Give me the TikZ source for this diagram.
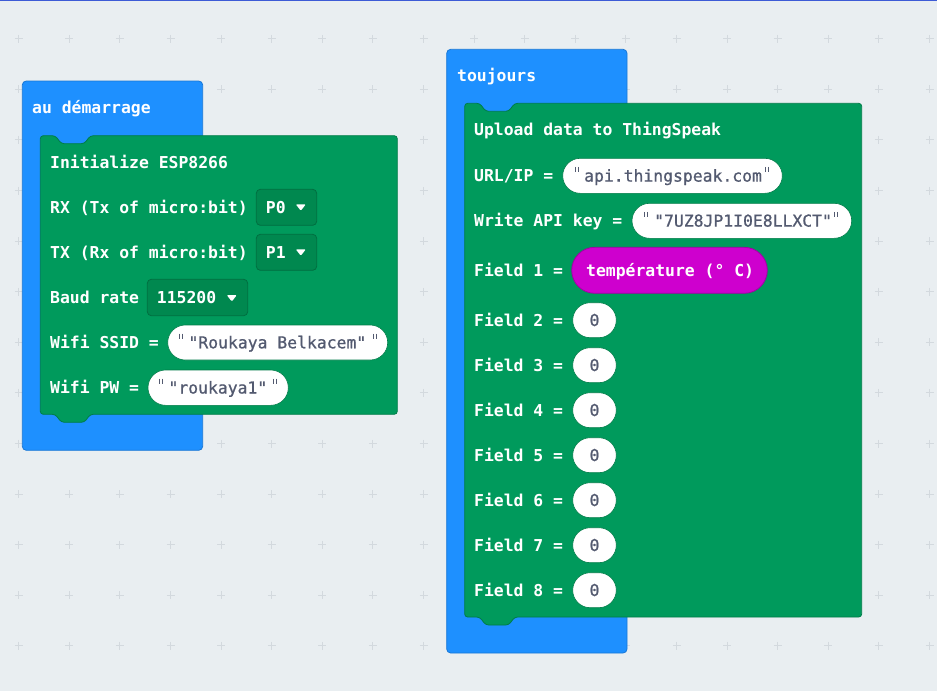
\documentclass[tikz,border=0pt]{standalone}
\usepackage{fontspec}
\newfontfamily\blkfont{DejaVu Sans Mono}
\newfontfamily\valfont[FakeBold=0.9]{DejaVu Sans Mono}
\definecolor{bgc}{HTML}{E9EEF1}
\definecolor{gridc}{HTML}{D3D9DE}
\definecolor{topline}{HTML}{3D5BD6}
\definecolor{bluec}{HTML}{1E90FF}
\definecolor{blueb}{HTML}{1877D6}
\definecolor{greenc}{HTML}{009A5C}
\definecolor{greenb}{HTML}{007C48}
\definecolor{ddfill}{HTML}{00884F}
\definecolor{ddb}{HTML}{006E40}
\definecolor{magc}{HTML}{CE00CE}
\definecolor{magb}{HTML}{A300A3}
\definecolor{valc}{HTML}{535A70}
\newcommand\gblockpath[4]{%
  \draw[gblock] (#1,#2) -- (#1+15,#2) -- (#1+21,#2+8) -- (#1+44,#2+8) -- (#1+50,#2)
    -- (#3,#2) -- (#3,#4) -- (#1+50,#4) -- (#1+44,#4+8) -- (#1+21,#4+8) -- (#1+15,#4)
    -- (#1,#4) -- cycle;}
\newcommand\quotemark[2]{%
  \draw[qmark] (#1,#2-9) -- (#1,#2-4) (#1+3,#2-9) -- (#1+3,#2-4);}
\newcommand\ddarrow[2]{%
  \fill[white, rounded corners=1] (#1-5,#2-3.2) -- (#1+5,#2-3.2) -- (#1,#2+3.2) -- cycle;}
\begin{document}
\begin{tikzpicture}[x=1pt,y=-1pt,
  lbl/.style={anchor=base west, inner sep=0, text=white, font=\blkfont\bfseries\fontsize{16.4}{18}\selectfont},
  val/.style={anchor=base west, inner sep=0, text=valc, font=\valfont\fontsize{16.4}{18}\selectfont},
  bblock/.style={fill=bluec, draw=blueb, line width=0.8, rounded corners=4},
  gblock/.style={fill=greenc, draw=greenb, line width=0.8, rounded corners=3},
  ddbox/.style={fill=ddfill, draw=ddb, line width=0.8, rounded corners=4},
  pill/.style={fill=white, draw=greenb, line width=0.6},
  magpill/.style={fill=magc, draw=magb, line width=0.8, rounded corners=23},
  qmark/.style={draw=valc, line width=1},
  gridplus/.style={draw=gridc, line width=0.9}]
\useasboundingbox (0,0) rectangle (937,691);
\fill[bgc] (0,0) rectangle (937,691);
% grid
\foreach \i in {0,...,18}{
  \foreach \j in {0,...,12}{
    \pgfmathsetmacro\gx{18.7+50.6*\i}
    \pgfmathsetmacro\gy{38.7+50.6*\j}
    \draw[gridplus] (\gx-4,\gy) -- (\gx+4,\gy) (\gx,\gy-4) -- (\gx,\gy+4);
  }
}
\fill[topline] (0,0) rectangle (937,1.4);

% ===== left: au demarrage =====
\draw[bblock] (22.3,81) rectangle (202.7,450.3);
\gblockpath{40.3}{135.7}{397.3}{414.3}
\node[lbl] (hstart) at (32,113.3) {au démarrage};
\node[lbl] (init) at (50,168.3) {Initialize ESP8266};
\node[lbl] (rx) at (50,213.1) {RX (Tx of micro:bit)};
\draw[ddbox] (256.3,189.3) rectangle (316.7,225.3);
\node[lbl] (rxv) at (265.7,213.1) {P0};
\ddarrow{300.8}{207.5}
\node[lbl] (tx) at (50,258.1) {TX (Rx of micro:bit)};
\draw[ddbox] (256.3,234.3) rectangle (316.7,270.3);
\node[lbl] (txv) at (265.7,258.1) {P1};
\ddarrow{300.8}{252.5}
\node[lbl] (baud) at (50,303.3) {Baud rate};
\draw[ddbox] (147.3,279.3) rectangle (247.7,315.7);
\node[lbl] (baudv) at (156.7,303.3) {115200};
\ddarrow{231.8}{298.3}
\node[lbl] (ssid) at (50,348.3) {Wifi SSID =};
\draw[pill, rounded corners=17.5] (167.7,325) rectangle (387.7,360);
\quotemark{179.5}{342.5}
\node[val] (ssidv) at (188.3,348.3) {"Roukaya Belkacem"};
\quotemark{373.5}{342.5}
\node[lbl] (pw) at (50,393.5) {Wifi PW =};
\draw[pill, rounded corners=17.5] (148,370) rectangle (288.3,405.3);
\quotemark{159.5}{387.7}
\node[val] (pwv) at (168.3,393.5) {"roukaya1"};
\quotemark{273.5}{387.7}

% ===== right: toujours =====
\draw[bblock] (446.7,49.3) rectangle (627,653);
\gblockpath{464.7}{103.3}{861.7}{617}
\node[lbl] (hloop) at (457,81.7) {toujours};
\node[lbl] (upl) at (474,135.7) {Upload data to ThingSpeak};
\node[lbl] (url) at (474,181.6) {URL/IP =};
\draw[pill, rounded corners=17.5] (562.7,158.3) rectangle (782.3,193.3);
\quotemark{575.2}{175.8}
\node[val] (urlv) at (584,181.6) {api.thingspeak.com};
\quotemark{765.5}{175.8}
\node[lbl] (key) at (474,226.6) {Write API key =};
\draw[pill, rounded corners=17.5] (632,203.3) rectangle (851.7,238.3);
\quotemark{644.5}{220.8}
\node[val] (keyv) at (654,226.6) {"7UZ8JP1I0E8LLXCT"};
\quotemark{834.5}{220.8}
\node[lbl] (f1) at (474,276) {Field 1 =};
\draw[magpill] (571.7,247.3) rectangle (767.3,293.3);
\node[lbl] (f1v) at (586,276) {température (° C)};
\foreach \k in {2,...,8}{
  \pgfmathsetmacro\cy{320.2+45*(\k-2)}
  \node[lbl] (f\k) at (474,\cy+5.8) {Field \k\ =};
  \draw[pill, rounded corners=17.5] (572.7,\cy-17.5) rectangle (616.3,\cy+17.5);
  \node[val, anchor=base] (f\k v) at (594.5,\cy+5.8) {0};
}
\end{tikzpicture}
\end{document}
